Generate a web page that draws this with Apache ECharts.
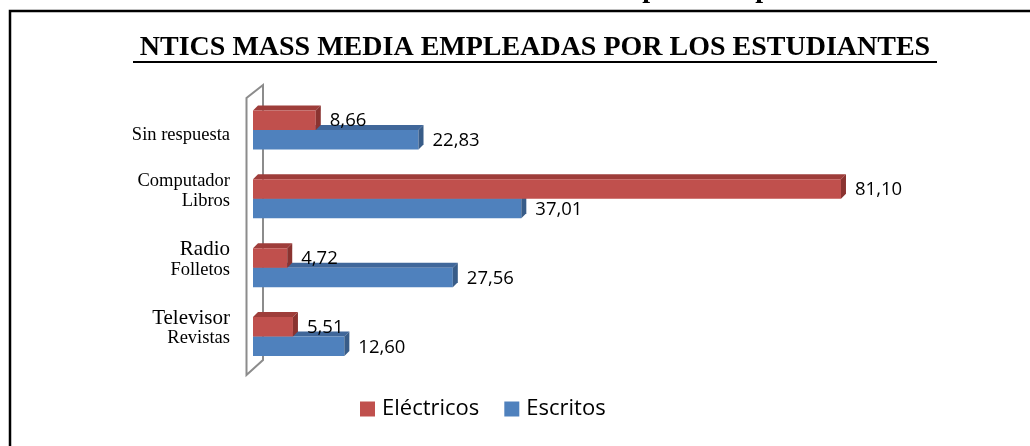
<!DOCTYPE html>
<html>
<head>
<meta charset="utf-8">
<script src="https://cdn.jsdelivr.net/npm/echarts@6/dist/echarts.min.js"></script>
<style>
  html, body { margin: 0; padding: 0; background: #ffffff; }
  #chart { width: 1030px; height: 446px; }
</style>
</head>
<body>
<div id="chart"></div>
<script>
// ---- data ----
const categories = ['Sin respuesta', 'Computador\nLibros', 'Radio\nFolletos', 'Televisor\nRevistas'];
const seriesNames = ['Eléctricos', 'Escritos'];
const electricos = [8.66, 81.10, 4.72, 5.51];
const escritos = [22.83, 37.01, 27.56, 12.60];
const titleText = 'NTICS MASS MEDIA EMPLEADAS POR LOS ESTUDIANTES';

// ---- layout / style ----
const GRID = { left: 253, right: 52, top: 95.5, bottom: 75 };
const X_MAX = 100;
const BAR_RATIO = 0.283;      // bar thickness as a share of the category band
const DEPTH_X = 5, DEPTH_Y = 5;
const SERIF = '"Liberation Serif", "Times New Roman", serif';
const SANS = '"Open Sans", "Noto Sans", sans-serif';

const palette = {
  red:  { front: '#C0504D', top: '#9E3D3A', side: '#8A3330' },
  blue: { front: '#4F81BD', top: '#40679A', side: '#385C88' }
};

const fmt = v => v.toFixed(2).replace('.', ',');

// first lines set in the larger serif size
const bigWords = { 'Radio': true, 'Televisor': true };

function axisLabel(value) {
  const lines = value.split('\n');
  if (lines.length === 1) {
    return '{padTop| }\n{n|' + lines[0] + '}';
  }
  const first = bigWords[lines[0]] ? '{b|' + lines[0] + '}' : '{n|' + lines[0] + '}';
  return first + '\n{n|' + lines[1] + '}\n{padBot| }';
}

// 3D-looking horizontal bar: front face, top face and right side face
function barRenderer(slot, colors) {
  return function (params, api) {
    const v = api.value(0);
    const cat = api.value(1);
    const p0 = api.coord([0, cat]);
    const p1 = api.coord([v, cat]);
    const band = api.size([0, 1])[1];
    const h = band * BAR_RATIO;
    const x0 = p0[0], x1 = p1[0];
    const yTop = slot === 0 ? p0[1] - h : p0[1];
    return {
      type: 'group',
      children: [
        {
          type: 'polygon',
          shape: { points: [[x0, yTop], [x1, yTop], [x1 + DEPTH_X, yTop - DEPTH_Y], [x0 + DEPTH_X, yTop - DEPTH_Y]] },
          style: { fill: colors.top }
        },
        {
          type: 'rect',
          shape: { x: x0, y: yTop, width: x1 - x0, height: h },
          style: { fill: colors.front }
        },
        {
          type: 'polygon',
          shape: { points: [[x1, yTop], [x1 + DEPTH_X, yTop - DEPTH_Y], [x1 + DEPTH_X, yTop + h - DEPTH_Y], [x1, yTop + h]] },
          style: { fill: colors.side }
        },
        {
          type: 'text',
          style: {
            text: fmt(v),
            x: x1 + DEPTH_X + 9,
            y: yTop + h / 2 + 1,
            align: 'left',
            verticalAlign: 'middle',
            fill: '#000000',
            font: '18.5px ' + SANS
          }
        }
      ]
    };
  };
}

const chart = echarts.init(document.getElementById('chart'), null, { renderer: 'canvas' });

const gridBottomY = 446 - GRID.bottom;
const wallLeft = GRID.left - 6.5, wallRight = GRID.left + 10;

chart.setOption({
  backgroundColor: '#ffffff',
  animation: false,
  grid: { left: GRID.left, right: GRID.right, top: GRID.top, bottom: GRID.bottom, containLabel: false },
  xAxis: { type: 'value', min: 0, max: X_MAX, show: false },
  yAxis: {
    type: 'category',
    data: categories,
    inverse: true,
    axisLine: { show: false },
    axisTick: { show: false },
    splitLine: { show: false },
    axisLabel: {
      margin: 23,
      align: 'right',
      formatter: axisLabel,
      rich: {
        n: { fontFamily: SERIF, fontSize: 18.5, lineHeight: 20, color: '#000', align: 'right' },
        b: { fontFamily: SERIF, fontSize: 21, lineHeight: 20, color: '#000', align: 'right' },
        padTop: { fontSize: 4, lineHeight: 10 },
        padBot: { fontSize: 4, lineHeight: 16 }
      }
    }
  },
  legend: {
    data: seriesNames,
    left: 355,
    top: 393,
    icon: 'rect',
    itemWidth: 15,
    itemHeight: 15,
    itemGap: 25,
    textStyle: { fontFamily: SANS, fontSize: 22, color: '#000', padding: [0, 0, 0, 2] }
  },
  graphic: [
    // outer frame
    {
      type: 'rect', z: 0,
      shape: { x: 10, y: 11, width: 1040, height: 460 },
      style: { fill: null, stroke: '#000', lineWidth: 2.5 }
    },
    // descenders of the heading above the frame
    { type: 'text', z: 0, style: { text: 'p', x: 650, y: 4, align: 'center', verticalAlign: 'bottom', font: 'bold 28px ' + SERIF, fill: '#000' } },
    { type: 'text', z: 0, style: { text: 'p', x: 763, y: 4, align: 'center', verticalAlign: 'bottom', font: 'bold 28px ' + SERIF, fill: '#000' } },
    // chart title with underline
    {
      type: 'text', z: 1,
      style: { text: titleText, x: 535, y: 48, align: 'center', verticalAlign: 'middle', font: 'bold 28px ' + SERIF, fill: '#000' }
    },
    {
      type: 'line', z: 1,
      shape: { x1: 133, y1: 62, x2: 937, y2: 62 },
      style: { stroke: '#000', lineWidth: 2 }
    },
    // back wall of the category axis
    {
      type: 'polygon', z: 1,
      shape: {
        points: [
          [wallRight, GRID.top - 10.5],
          [wallLeft, GRID.top + 2.5],
          [wallLeft, gridBottomY + 4],
          [wallRight, gridBottomY - 11]
        ]
      },
      style: { fill: null, stroke: '#8C8C8C', lineWidth: 2 }
    }
  ],
  series: [
    {
      name: seriesNames[0],
      type: 'custom',
      z: 4,
      itemStyle: { color: palette.red.front },
      encode: { x: 0, y: 1 },
      data: electricos.map((v, i) => [v, categories[i]]),
      renderItem: barRenderer(0, palette.red)
    },
    {
      name: seriesNames[1],
      type: 'custom',
      z: 3,
      itemStyle: { color: palette.blue.front },
      encode: { x: 0, y: 1 },
      data: escritos.map((v, i) => [v, categories[i]]),
      renderItem: barRenderer(1, palette.blue)
    }
  ]
});
</script>
</body>
</html>
